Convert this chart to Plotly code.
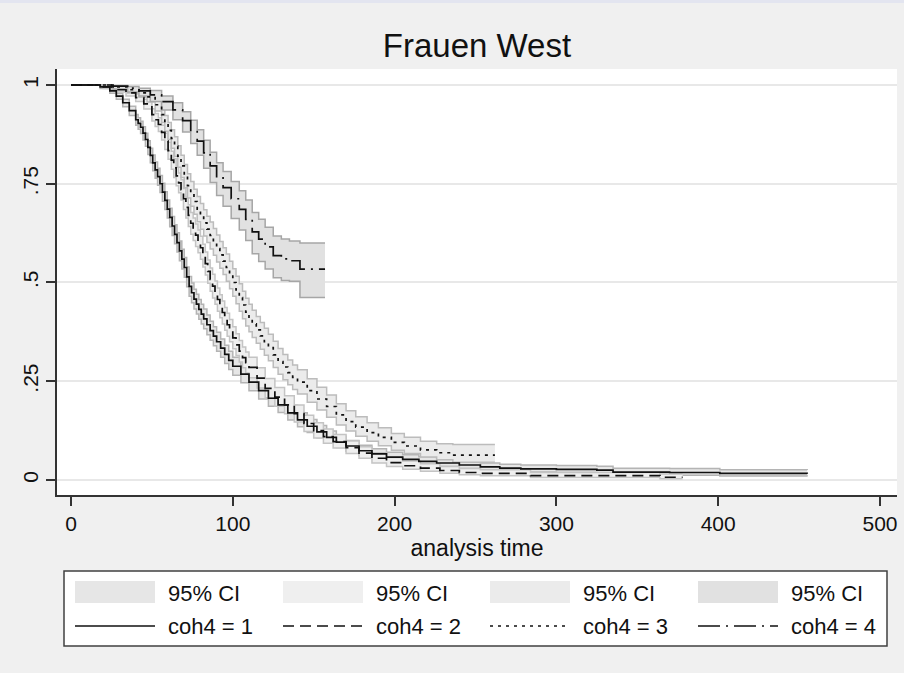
import plotly.graph_objects as go

# ---------------- data ----------------
t1 = [0, 18, 24, 28, 32, 36, 40, 41.5, 43, 44.5, 46, 47.5, 49, 50.5, 52, 53.5, 55, 56.5, 58, 59.5, 61, 62.5,
      64, 65.5, 67, 68.5, 70, 71.5, 73, 74.5, 76, 77.5, 79, 80.5, 82, 84, 86, 88, 90, 92.5, 95, 97.5, 100,
      105, 110, 116, 122, 128, 134, 140, 146, 152, 158, 164, 170, 178, 186, 195, 205, 215, 226, 240, 253,
      265, 278, 300, 325, 335, 370, 401, 455]
s1 = [1.0, 0.995, 0.985, 0.972, 0.955, 0.935, 0.912, 0.903, 0.893, 0.878, 0.862, 0.842, 0.822, 0.803, 0.785,
      0.768, 0.750, 0.729, 0.708, 0.686, 0.665, 0.643, 0.622, 0.601, 0.580, 0.559, 0.538, 0.514, 0.490, 0.474,
      0.458, 0.445, 0.432, 0.420, 0.408, 0.393, 0.378, 0.364, 0.350, 0.334, 0.318, 0.303, 0.288,
      0.268, 0.248, 0.226, 0.207, 0.190, 0.170, 0.152, 0.136, 0.122, 0.108, 0.096, 0.086, 0.074, 0.066, 0.058,
      0.052, 0.047, 0.043, 0.038, 0.033, 0.030, 0.028, 0.027, 0.025, 0.020, 0.019, 0.017, 0.016]
lo1 = [1.0, 0.991, 0.979, 0.964, 0.945, 0.923, 0.898, 0.888, 0.877, 0.861, 0.845, 0.824, 0.803, 0.783, 0.764,
       0.746, 0.728, 0.706, 0.685, 0.663, 0.641, 0.619, 0.598, 0.577, 0.555, 0.534, 0.513, 0.489, 0.465, 0.449,
       0.433, 0.420, 0.407, 0.395, 0.383, 0.368, 0.354, 0.340, 0.326, 0.311, 0.295, 0.280, 0.265,
       0.246, 0.226, 0.205, 0.187, 0.171, 0.152, 0.135, 0.120, 0.107, 0.093, 0.082, 0.073, 0.062, 0.055, 0.047,
       0.042, 0.037, 0.034, 0.029, 0.025, 0.022, 0.020, 0.019, 0.017, 0.013, 0.012, 0.010, 0.009]
hi1 = [1.0, 0.998, 0.990, 0.979, 0.964, 0.946, 0.925, 0.917, 0.908, 0.894, 0.878, 0.859, 0.840, 0.823, 0.805,
       0.789, 0.771, 0.751, 0.730, 0.709, 0.688, 0.667, 0.646, 0.626, 0.605, 0.584, 0.563, 0.539, 0.515, 0.499,
       0.483, 0.470, 0.457, 0.445, 0.433, 0.418, 0.402, 0.388, 0.374, 0.357, 0.341, 0.326, 0.311,
       0.290, 0.270, 0.247, 0.227, 0.210, 0.189, 0.170, 0.153, 0.138, 0.124, 0.111, 0.100, 0.088, 0.079, 0.070,
       0.064, 0.059, 0.054, 0.049, 0.043, 0.040, 0.038, 0.037, 0.035, 0.030, 0.029, 0.026, 0.025]

t2 = [0, 20, 28, 34, 40, 45, 50, 52, 54, 56, 58, 60, 62, 63.5, 65, 66.5, 68, 69.5, 71, 72.5, 74, 75.5, 77,
      78.5, 80, 81.5, 83, 84.5, 86, 87.5, 89, 90.5, 92, 93.5, 95, 96.5, 98, 100, 102, 104, 106, 108, 110,
      115, 120, 126, 132, 138, 144, 150, 156, 162, 170, 178, 186, 195, 205, 216, 228, 240, 253, 284, 364, 378]
s2 = [1.0, 0.995, 0.988, 0.980, 0.968, 0.952, 0.925, 0.912, 0.900, 0.880, 0.858, 0.834, 0.810, 0.790, 0.770,
      0.752, 0.735, 0.712, 0.690, 0.670, 0.650, 0.635, 0.620, 0.604, 0.588, 0.568, 0.548, 0.528, 0.508, 0.491,
      0.475, 0.457, 0.440, 0.424, 0.408, 0.393, 0.378, 0.360, 0.342, 0.326, 0.310, 0.297, 0.285,
      0.258, 0.232, 0.210, 0.190, 0.168, 0.143, 0.125, 0.110, 0.097, 0.082, 0.068, 0.055, 0.044, 0.036, 0.030,
      0.024, 0.019, 0.017, 0.011, 0.007, 0.007]
lo2 = [1.0, 0.991, 0.982, 0.972, 0.958, 0.939, 0.909, 0.895, 0.882, 0.861, 0.837, 0.812, 0.787, 0.766, 0.745,
       0.727, 0.709, 0.685, 0.663, 0.642, 0.622, 0.606, 0.591, 0.575, 0.559, 0.539, 0.519, 0.498, 0.478, 0.461,
       0.445, 0.427, 0.411, 0.395, 0.379, 0.364, 0.350, 0.332, 0.315, 0.299, 0.284, 0.271, 0.259,
       0.233, 0.208, 0.187, 0.168, 0.147, 0.123, 0.106, 0.093, 0.081, 0.067, 0.055, 0.043, 0.034, 0.027, 0.022,
       0.017, 0.013, 0.011, 0.006, 0.003, 0.003]
hi2 = [1.0, 0.998, 0.993, 0.987, 0.977, 0.964, 0.940, 0.928, 0.917, 0.898, 0.878, 0.855, 0.832, 0.813, 0.794,
       0.777, 0.760, 0.738, 0.716, 0.697, 0.677, 0.663, 0.648, 0.633, 0.617, 0.597, 0.577, 0.557, 0.537, 0.521,
       0.504, 0.486, 0.469, 0.453, 0.437, 0.422, 0.406, 0.388, 0.370, 0.353, 0.337, 0.324, 0.311,
       0.284, 0.257, 0.234, 0.213, 0.190, 0.164, 0.145, 0.129, 0.115, 0.099, 0.084, 0.069, 0.057, 0.048, 0.041,
       0.034, 0.029, 0.026, 0.019, 0.015, 0.015]

t3 = [0, 25, 35, 42, 47, 52, 56, 58, 60, 62, 64, 66, 68, 70, 72, 74, 76, 78, 80, 82, 84, 86, 88, 90, 92, 94,
      96, 98, 100, 102, 104, 106, 108, 110, 112, 114.5, 117, 119.5, 122, 125, 128, 131, 134, 137, 140,
      146, 152, 158, 164, 170, 176, 183, 190, 198, 206, 216, 226, 236, 262]
s3 = [1.0, 0.995, 0.988, 0.980, 0.970, 0.950, 0.925, 0.905, 0.885, 0.865, 0.845, 0.820, 0.795, 0.770, 0.745,
      0.725, 0.705, 0.686, 0.668, 0.651, 0.635, 0.619, 0.603, 0.586, 0.570, 0.554, 0.538, 0.519, 0.500, 0.481,
      0.462, 0.443, 0.425, 0.410, 0.395, 0.380, 0.365, 0.350, 0.335, 0.317, 0.300, 0.286, 0.272, 0.260, 0.248,
      0.226, 0.205, 0.186, 0.165, 0.148, 0.134, 0.120, 0.108, 0.095, 0.086, 0.076, 0.069, 0.063, 0.063]
lo3 = [1.0, 0.989, 0.980, 0.969, 0.957, 0.934, 0.905, 0.883, 0.862, 0.840, 0.819, 0.792, 0.766, 0.740, 0.714,
       0.693, 0.673, 0.654, 0.635, 0.618, 0.601, 0.585, 0.569, 0.552, 0.536, 0.520, 0.503, 0.484, 0.465, 0.446,
       0.427, 0.408, 0.390, 0.375, 0.361, 0.346, 0.331, 0.316, 0.302, 0.285, 0.268, 0.254, 0.241, 0.229, 0.218,
       0.197, 0.177, 0.159, 0.139, 0.124, 0.111, 0.098, 0.087, 0.075, 0.067, 0.058, 0.051, 0.045, 0.045]
hi3 = [1.0, 0.998, 0.993, 0.987, 0.979, 0.963, 0.941, 0.923, 0.905, 0.887, 0.869, 0.846, 0.822, 0.799, 0.775,
       0.756, 0.736, 0.718, 0.700, 0.684, 0.668, 0.653, 0.637, 0.620, 0.604, 0.588, 0.572, 0.554, 0.535, 0.516,
       0.497, 0.478, 0.460, 0.445, 0.430, 0.414, 0.399, 0.384, 0.369, 0.351, 0.333, 0.318, 0.304, 0.291, 0.279,
       0.256, 0.235, 0.215, 0.193, 0.175, 0.160, 0.145, 0.132, 0.118, 0.108, 0.098, 0.092, 0.090, 0.090]

t4 = [0, 26, 35, 42, 49, 56, 63, 69, 74, 78, 82, 86, 90, 94, 99, 104, 108, 112, 116, 120, 125, 130, 135,
      141.5, 157]
s4 = [1.0, 0.997, 0.992, 0.985, 0.975, 0.958, 0.937, 0.910, 0.885, 0.858, 0.828, 0.795, 0.765, 0.740, 0.712,
      0.685, 0.660, 0.628, 0.610, 0.590, 0.568, 0.560, 0.555, 0.534, 0.534]
lo4 = [1.0, 0.990, 0.982, 0.972, 0.958, 0.937, 0.912, 0.881, 0.852, 0.822, 0.789, 0.753, 0.720, 0.693, 0.662,
       0.633, 0.606, 0.573, 0.553, 0.534, 0.512, 0.505, 0.503, 0.462, 0.462]
hi4 = [1.0, 0.999, 0.996, 0.992, 0.986, 0.972, 0.955, 0.932, 0.911, 0.887, 0.860, 0.830, 0.803, 0.781, 0.756,
       0.732, 0.709, 0.677, 0.660, 0.640, 0.618, 0.610, 0.605, 0.600, 0.600]

series_names = ["coh4 = 1", "coh4 = 2", "coh4 = 3", "coh4 = 4"]
ci_label = "95% CI"
x_ticks = [0, 100, 200, 300, 400, 500]
y_ticks = [0, 0.25, 0.5, 0.75, 1]
y_ticktext = ["0", ".25", ".5", ".75", "1"]
title_text = "Frauen West"
x_title = "analysis time"

# ---------------- styling ----------------
FONT = "Liberation Sans, Arial, sans-serif"
W, H = 904, 673
ML, MR, MT, MB = 57, 7, 69, 178
PW, PH = W - ML - MR, H - MT - MB

ci_fill = ["#e6e6e6", "#efefef", "#ebebeb", "#e1e1e1"]
ci_edge = ["#b4b4b4", "#c4c4c4", "#bcbcbc", "#a6a6a6"]
dashes = ["solid", "11px,6px", "3px,5px", "22px,6px,2px,6px"]


def px_x(x):
    return (x - ML) / PW


def px_y(y):
    return (H - MB - y) / PH


fig = go.Figure()

curves = [(t1, s1, lo1, hi1), (t2, s2, lo2, hi2), (t3, s3, lo3, hi3), (t4, s4, lo4, hi4)]

for i, (t, s, lo, hi) in enumerate(curves):
    fig.add_trace(go.Scatter(x=t, y=lo, mode="lines", line=dict(color=ci_edge[i], width=1.5, shape="hv"),
                             showlegend=False, hoverinfo="skip"))
    fig.add_trace(go.Scatter(x=t, y=hi, mode="lines", line=dict(color=ci_edge[i], width=1.5, shape="hv"),
                             fill="tonexty", fillcolor=ci_fill[i], showlegend=False, hoverinfo="skip",
                             name=ci_label))

for i, (t, s, lo, hi) in enumerate(curves):
    fig.add_trace(go.Scatter(x=t, y=s, mode="lines", name=series_names[i],
                             line=dict(color="#111111", width=1.7, shape="hv", dash=dashes[i]),
                             showlegend=False))

shapes = []
annotations = []
# top strip
shapes.append(dict(type="rect", xref="paper", yref="paper", x0=px_x(0), x1=px_x(W), y0=px_y(3), y1=px_y(0),
                   fillcolor="#e3e5f0", line=dict(width=0), layer="below"))
# legend box
shapes.append(dict(type="rect", xref="paper", yref="paper", x0=px_x(64), x1=px_x(887), y0=px_y(646),
                   y1=px_y(571), fillcolor="white", line=dict(color="#404040", width=1.5)))
col_x = [75, 283, 490, 698]
for i in range(4):
    x0 = col_x[i]
    shapes.append(dict(type="rect", xref="paper", yref="paper", x0=px_x(x0), x1=px_x(x0 + 80),
                       y0=px_y(603), y1=px_y(581), fillcolor=ci_fill[i], line=dict(width=0)))
    shapes.append(dict(type="line", xref="paper", yref="paper", x0=px_x(x0), x1=px_x(x0 + 80),
                       y0=px_y(626), y1=px_y(626), line=dict(color="#111111", width=1.6, dash=dashes[i])))
    annotations.append(dict(xref="paper", yref="paper", x=px_x(x0 + 91), y=px_y(593), text=ci_label,
                            showarrow=False, xanchor="left", yanchor="middle",
                            font=dict(family=FONT, size=22, color="#111111")))
    annotations.append(dict(xref="paper", yref="paper", x=px_x(x0 + 91), y=px_y(626), text=series_names[i],
                            showarrow=False, xanchor="left", yanchor="middle",
                            font=dict(family=FONT, size=22, color="#111111")))

fig.update_layout(
    width=W, height=H,
    margin=dict(l=ML, r=MR, t=MT, b=MB),
    paper_bgcolor="#f0f0f0",
    plot_bgcolor="white",
    showlegend=False,
    title=dict(text=title_text, x=px_x(477), xref="paper", xanchor="center",
               y=1 - 45 / H, yref="container", yanchor="middle",
               font=dict(family=FONT, size=33, color="#111111")),
    font=dict(family=FONT, color="#111111"),
    shapes=shapes,
    annotations=annotations,
)

fig.update_xaxes(range=[-8.65, 510.5], tickvals=x_ticks, ticks="outside", ticklen=9, tickwidth=1.5,
                 tickcolor="#333333", showline=True, linecolor="#333333", linewidth=1.5, showgrid=False,
                 zeroline=False, tickfont=dict(family=FONT, size=21, color="#111111"),
                 title=dict(text=x_title, font=dict(family=FONT, size=23, color="#111111"), standoff=1))
fig.update_yaxes(range=[-0.038, 1.0405], tickvals=y_ticks, ticktext=y_ticktext, tickangle=-90,
                 ticks="outside", ticklen=9, tickwidth=1.5, tickcolor="#333333", showline=True,
                 linecolor="#333333", linewidth=1.5, showgrid=True, gridcolor="#e8e8e8", gridwidth=1.5,
                 zeroline=False, tickfont=dict(family=FONT, size=21, color="#111111"))

fig.write_html("out.html")
